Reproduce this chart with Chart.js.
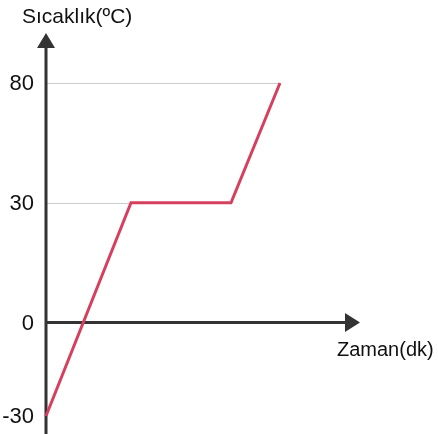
<!DOCTYPE html>
<html>
<head>
<meta charset="utf-8">
<script src="https://cdn.jsdelivr.net/npm/chart.js@4"></script>
<style>
  html, body { margin: 0; padding: 0; background: #fff; }
  #wrap { width: 438px; height: 434px; }
</style>
</head>
<body>
<div id="wrap"><canvas id="tempCanvas"></canvas></div>
<script>
// time (min) and temperature (ºC)
const times = [0, 8.5, 18.5, 23.4];
const temps = [-30, 30, 30, 80];
const tempTicks = [-30, 0, 30, 80];

const yTitle = 'Sıcaklık(ºC)';
const xTitle = 'Zaman(dk)';

// y axis in the picture is not linear: ticks are spaced by step, not value
class StepScale extends Chart.LinearScale {
    static id = 'step';
    static defaults = Chart.LinearScale.defaults;

    buildTicks() {
        return this.options.stops.map(v => ({ value: v }));
    }

    toDecimal(value) {
        const stops = this.options.stops;
        const gaps = this.options.gaps;
        const total = gaps.reduce((a, b) => a + b, 0);
        let acc = 0;
        for (let i = 0; i < gaps.length; i++) {
            const lo = stops[i], hi = stops[i + 1];
            if (value <= hi || i === gaps.length - 1) {
                return (acc + gaps[i] * (value - lo) / (hi - lo)) / total;
            }
            acc += gaps[i];
        }
        return 0;
    }

    getPixelForValue(value) {
        return this.getPixelForDecimal(this.toDecimal(value));
    }

    getValueForPixel(pixel) {
        const d = this.getDecimalForPixel(pixel);
        const stops = this.options.stops;
        const gaps = this.options.gaps;
        const total = gaps.reduce((a, b) => a + b, 0);
        let acc = 0;
        for (let i = 0; i < gaps.length; i++) {
            const next = acc + gaps[i] / total;
            if (d <= next || i === gaps.length - 1) {
                return stops[i] + (d - acc) / (gaps[i] / total) * (stops[i + 1] - stops[i]);
            }
            acc = next;
        }
        return stops[0];
    }
}
Chart.register(StepScale);

const axisColor = '#333333';
const gridColor = '#cccccc';
const lineColor = '#d6405f';
const fontName = '"Liberation Sans", Arial, sans-serif';

const axesPlugin = {
    id: 'axesPlugin',
    beforeDatasetsDraw(chart) {
        const ctx = chart.ctx;
        const area = chart.chartArea;
        const x = chart.scales.x;
        const y = chart.scales.y;
        const x0 = x.getPixelForValue(0);
        const y0 = y.getPixelForValue(0);

        ctx.save();
        // guide lines from the axis to the first point at that value
        ctx.strokeStyle = gridColor;
        ctx.lineWidth = 1;
        tempTicks.forEach(t => {
            if (t <= 0) return;
            const idx = temps.indexOf(t);
            if (idx < 0) return;
            const py = Math.round(y.getPixelForValue(t)) + 0.5;
            ctx.beginPath();
            ctx.moveTo(x0, py);
            ctx.lineTo(x.getPixelForValue(times[idx]), py);
            ctx.stroke();
        });

        // axes with arrow heads
        ctx.strokeStyle = axisColor;
        ctx.fillStyle = axisColor;
        ctx.lineWidth = 3;
        const yTip = area.top - 50;
        ctx.beginPath();
        ctx.moveTo(x0, chart.height);
        ctx.lineTo(x0, yTip + 12);
        ctx.stroke();
        ctx.beginPath();
        ctx.moveTo(x0, yTip);
        ctx.lineTo(x0 - 9, yTip + 15);
        ctx.lineTo(x0 + 9, yTip + 15);
        ctx.closePath();
        ctx.fill();

        const xTip = area.right + 14;
        ctx.beginPath();
        ctx.moveTo(x0, y0);
        ctx.lineTo(xTip - 12, y0);
        ctx.stroke();
        ctx.beginPath();
        ctx.moveTo(xTip, y0);
        ctx.lineTo(xTip - 15, y0 - 9.5);
        ctx.lineTo(xTip - 15, y0 + 9.5);
        ctx.closePath();
        ctx.fill();
        ctx.restore();
    },
    afterDraw(chart) {
        const ctx = chart.ctx;
        const y = chart.scales.y;
        const x0 = chart.scales.x.getPixelForValue(0);
        ctx.save();
        ctx.fillStyle = '#111111';
        ctx.textAlign = 'right';
        ctx.textBaseline = 'middle';
        ctx.font = '22px ' + fontName;
        tempTicks.forEach(t => {
            ctx.fillText(String(t), x0 - 12, y.getPixelForValue(t) + 1);
        });
        ctx.textAlign = 'left';
        ctx.textBaseline = 'alphabetic';
        ctx.font = '21px ' + fontName;
        ctx.fillText(yTitle, 22, 23);
        ctx.font = '20px ' + fontName;
        ctx.fillText(xTitle, 337, 356);
        ctx.restore();
    }
};

function tempChart() {
    let tempData = {
        datasets: [{
            data: times.map((t, i) => ({ x: t, y: temps[i] })),
            borderColor: lineColor,
            borderWidth: 3,
            pointRadius: 0,
            tension: 0,
            fill: false,
            clip: false
        }]
    };

    let tempOptions = {
        responsive: true,
        maintainAspectRatio: false,
        animation: {
            duration: 0
        },
        layout: {
            padding: { left: 46, right: 92, top: 83, bottom: 18 }
        },
        scales: {
            x: {
                type: 'linear',
                min: 0,
                max: 30,
                display: false
            },
            y: {
                type: 'step',
                min: -30,
                max: 80,
                stops: tempTicks,
                gaps: [0.78, 1, 1],
                display: false
            }
        },
        plugins: {
            legend: { display: false },
            tooltip: { enabled: false }
        }
    };

    return new Chart(document.getElementById('tempCanvas'), {
        type: 'line',
        data: tempData,
        options: tempOptions,
        plugins: [axesPlugin]
    });
}

tempChart();
</script>
</body>
</html>
